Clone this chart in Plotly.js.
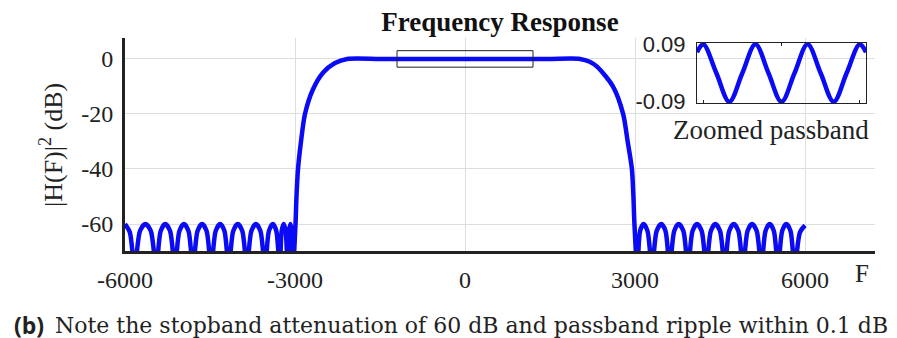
<!DOCTYPE html>
<html>
<head>
<meta charset="utf-8">
<script src="https://cdn.plot.ly/plotly-3.0.1.min.js"></script>
<style>html,body{margin:0;padding:0;background:#fff;}#chart{width:897px;height:338px;}</style>
</head>
<body>
<div id="chart"></div>
<script>
// Main magnitude response (F in Hz, |H(F)|^2 in dB)
const freqHz = [
  -6000, -5915, -5830, -5735, -5640, -5545, -5450, -5370, -5290, -5205, -5120, -5040,
  -4960, -4880, -4800, -4720, -4640, -4560, -4480, -4400, -4320, -4245, -4170, -4090,
  -4010, -3930, -3850, -3770, -3690, -3610, -3530, -3460, -3390, -3330, -3270, -3235,
  -3200, -3165, -3130, -3105, -3080, -3058, -3035,
  -2991, -2974, -2947, -2894, -2824, -2682, -2506, -2294, -2080,
  -1500, -1000, -500, 0, 500, 1000, 1500,
  2030, 2200, 2330, 2610, 2790, 2870, 2945, 2972, 2990,
  3040, 3090, 3150, 3220, 3300, 3382, 3464, 3538, 3612, 3692, 3771, 3853,
  3935, 4015, 4094, 4176, 4258, 4338, 4417, 4500, 4583, 4662, 4742, 4824,
  4906, 4986, 5065, 5147, 5229, 5303, 5377, 5450, 5524, 5597, 5670, 5744,
  5818, 5910, 6000
];
const magDb = [
  -60, -63, -76, -62.5, -60, -62.5, -76, -62.5, -60, -62.5, -76, -62.5,
  -60, -62.5, -76, -62.5, -60, -62.5, -76, -62.5, -60, -62.5, -76, -62.5,
  -60, -62.5, -76, -62.5, -60, -62.5, -76, -62.5, -60, -62.5, -76, -62.5,
  -60, -62.5, -76, -62.5, -60, -62.5, -76,
  -60, -50, -40, -30, -20, -11, -5, -1.5, 0,
  0, 0, 0, 0, 0, 0, 0,
  0, -1, -2.8, -10, -20, -30, -40, -50, -60,
  -76, -62.5, -60, -62.5, -76, -62.5, -60, -62.5, -76, -62.5, -60, -62.5,
  -76, -62.5, -60, -62.5, -76, -62.5, -60, -62.5, -76, -62.5, -60, -62.5,
  -76, -62.5, -60, -62.5, -76, -62.5, -60, -62.5, -76, -62.5, -60, -62.5,
  -76, -63, -60.5
];
// Zoomed passband ripple (inset)
const insetFreqHz = [-1080, -1000, -833, -667, -500, -333, -167, 0, 167, 333, 500, 667, 833, 1000, 1080];
const insetRippleDb = [0.065, 0.09, 0, -0.09, 0, 0.09, 0, -0.09, 0, 0.09, 0, -0.09, 0, 0.09, 0.065];
// Ticks
const xTickVals = [-6000, -3000, 0, 3000, 6000];
const xTickText = ['-6000', '-3000', '0', '3000', '6000'];
const yTickVals = [-60, -40, -20, 0];
const yTickText = ['-60', '-40', '-20', '0'];
const insetYTickVals = [-0.09, 0.09];
const insetYTickText = ['-0.09', '0.09'];
// Zoom box on the main plot
const zoomBoxF = [-1200, 1200];
const zoomBoxDb = [-3, 3];

const serif = 'Liberation Serif, Times New Roman, serif';
const blue = 'rgb(10,10,245)';

const traces = [
  {
    x: freqHz, y: magDb, type: 'scatter', mode: 'lines',
    line: {color: blue, width: 4.5, shape: 'spline', smoothing: 0.8},
    xaxis: 'x', yaxis: 'y', hoverinfo: 'skip'
  },
  {
    x: insetFreqHz, y: insetRippleDb, type: 'scatter', mode: 'lines',
    line: {color: blue, width: 4.5, shape: 'spline', smoothing: 1},
    xaxis: 'x2', yaxis: 'y2', hoverinfo: 'skip'
  }
];

const layout = {
  width: 897, height: 338,
  margin: {l: 125, r: 22, t: 38, b: 87, pad: 0},
  paper_bgcolor: '#fff', plot_bgcolor: 'rgba(0,0,0,0)',
  showlegend: false,
  title: {
    text: '<b>Frequency Response</b>',
    font: {family: serif, size: 27, color: '#111'},
    x: 0.5, xref: 'paper', xanchor: 'center',
    y: 1 - 22 / 338, yref: 'container', yanchor: 'middle'
  },
  xaxis: {
    domain: [0, 1], range: [-6000, 7235],
    tickvals: xTickVals, ticktext: xTickText,
    ticks: 'outside', ticklen: 5, tickcolor: 'rgba(0,0,0,0)',
    tickfont: {family: serif, size: 24, color: '#222'},
    showgrid: true, gridcolor: '#dedede', gridwidth: 1,
    zeroline: false, showline: true, linecolor: '#222', linewidth: 3
  },
  yaxis: {
    domain: [0, 1], range: [-69.8, 7.6],
    tickvals: yTickVals, ticktext: yTickText,
    ticks: 'outside', ticklen: 4, tickcolor: 'rgba(0,0,0,0)',
    tickfont: {family: serif, size: 24, color: '#222'},
    showgrid: true, gridcolor: '#dedede', gridwidth: 1,
    zeroline: false, showline: true, linecolor: '#222', linewidth: 3
  },
  xaxis2: {
    domain: [(697 - 125) / 750, (866 - 125) / 750], anchor: 'y2',
    range: [-1080, 1080], tickvals: [-1000, 0, 1000], showticklabels: false,
    ticks: 'inside', ticklen: 3, tickcolor: '#222',
    showgrid: false, zeroline: false, showline: true, mirror: 'ticks',
    linecolor: '#222', linewidth: 1
  },
  yaxis2: {
    domain: [(251 - 103) / 213, (251 - 43) / 213], anchor: 'x2',
    range: [-0.094, 0.094], tickvals: insetYTickVals, ticktext: insetYTickText,
    ticks: 'outside', ticklen: 6, tickcolor: 'rgba(0,0,0,0)',
    tickfont: {family: 'Liberation Sans, Arial, sans-serif', size: 22, color: '#222'},
    showgrid: false, zeroline: false, showline: true, mirror: true,
    linecolor: '#222', linewidth: 1
  },
  shapes: [
    {type: 'rect', xref: 'x', yref: 'y', x0: zoomBoxF[0], x1: zoomBoxF[1], y0: zoomBoxDb[0], y1: zoomBoxDb[1],
     line: {color: '#222', width: 1}, fillcolor: 'rgba(0,0,0,0)'}
  ],
  annotations: [
    {text: '|H(F)|<sup>2</sup> (dB)', xref: 'paper', yref: 'paper', x: (51 - 125) / 750, y: (251 - 145) / 213,
     xanchor: 'center', yanchor: 'middle', textangle: -90, showarrow: false,
     font: {family: serif, size: 26, color: '#222'}},
    {text: 'F', xref: 'paper', yref: 'paper', x: (862 - 125) / 750, y: (251 - 273) / 213,
     xanchor: 'center', yanchor: 'middle', showarrow: false,
     font: {family: serif, size: 25, color: '#222'}},
    {text: 'Zoomed passband', xref: 'paper', yref: 'paper', x: (771 - 125) / 750, y: (251 - 130) / 213,
     xanchor: 'center', yanchor: 'middle', showarrow: false,
     font: {family: serif, size: 27, color: '#222'}},
    {text: '<b>(b)</b>', xref: 'paper', yref: 'paper', x: (12 - 125) / 750, y: (251 - 325) / 213,
     xanchor: 'left', yanchor: 'middle', showarrow: false,
     font: {family: 'Open Sans, Liberation Sans, sans-serif', size: 23, color: '#222'}},
    {text: 'Note the stopband attenuation of 60 dB and passband ripple within 0.1 dB',
     xref: 'paper', yref: 'paper', x: (53 - 125) / 750, y: (251 - 325) / 213,
     xanchor: 'left', yanchor: 'middle', showarrow: false,
     font: {family: 'DejaVu Serif, serif', size: 22, color: '#222'}}
  ]
};

Plotly.newPlot('chart', traces, layout, {staticPlot: true, displayModeBar: false});
</script>
</body>
</html>
